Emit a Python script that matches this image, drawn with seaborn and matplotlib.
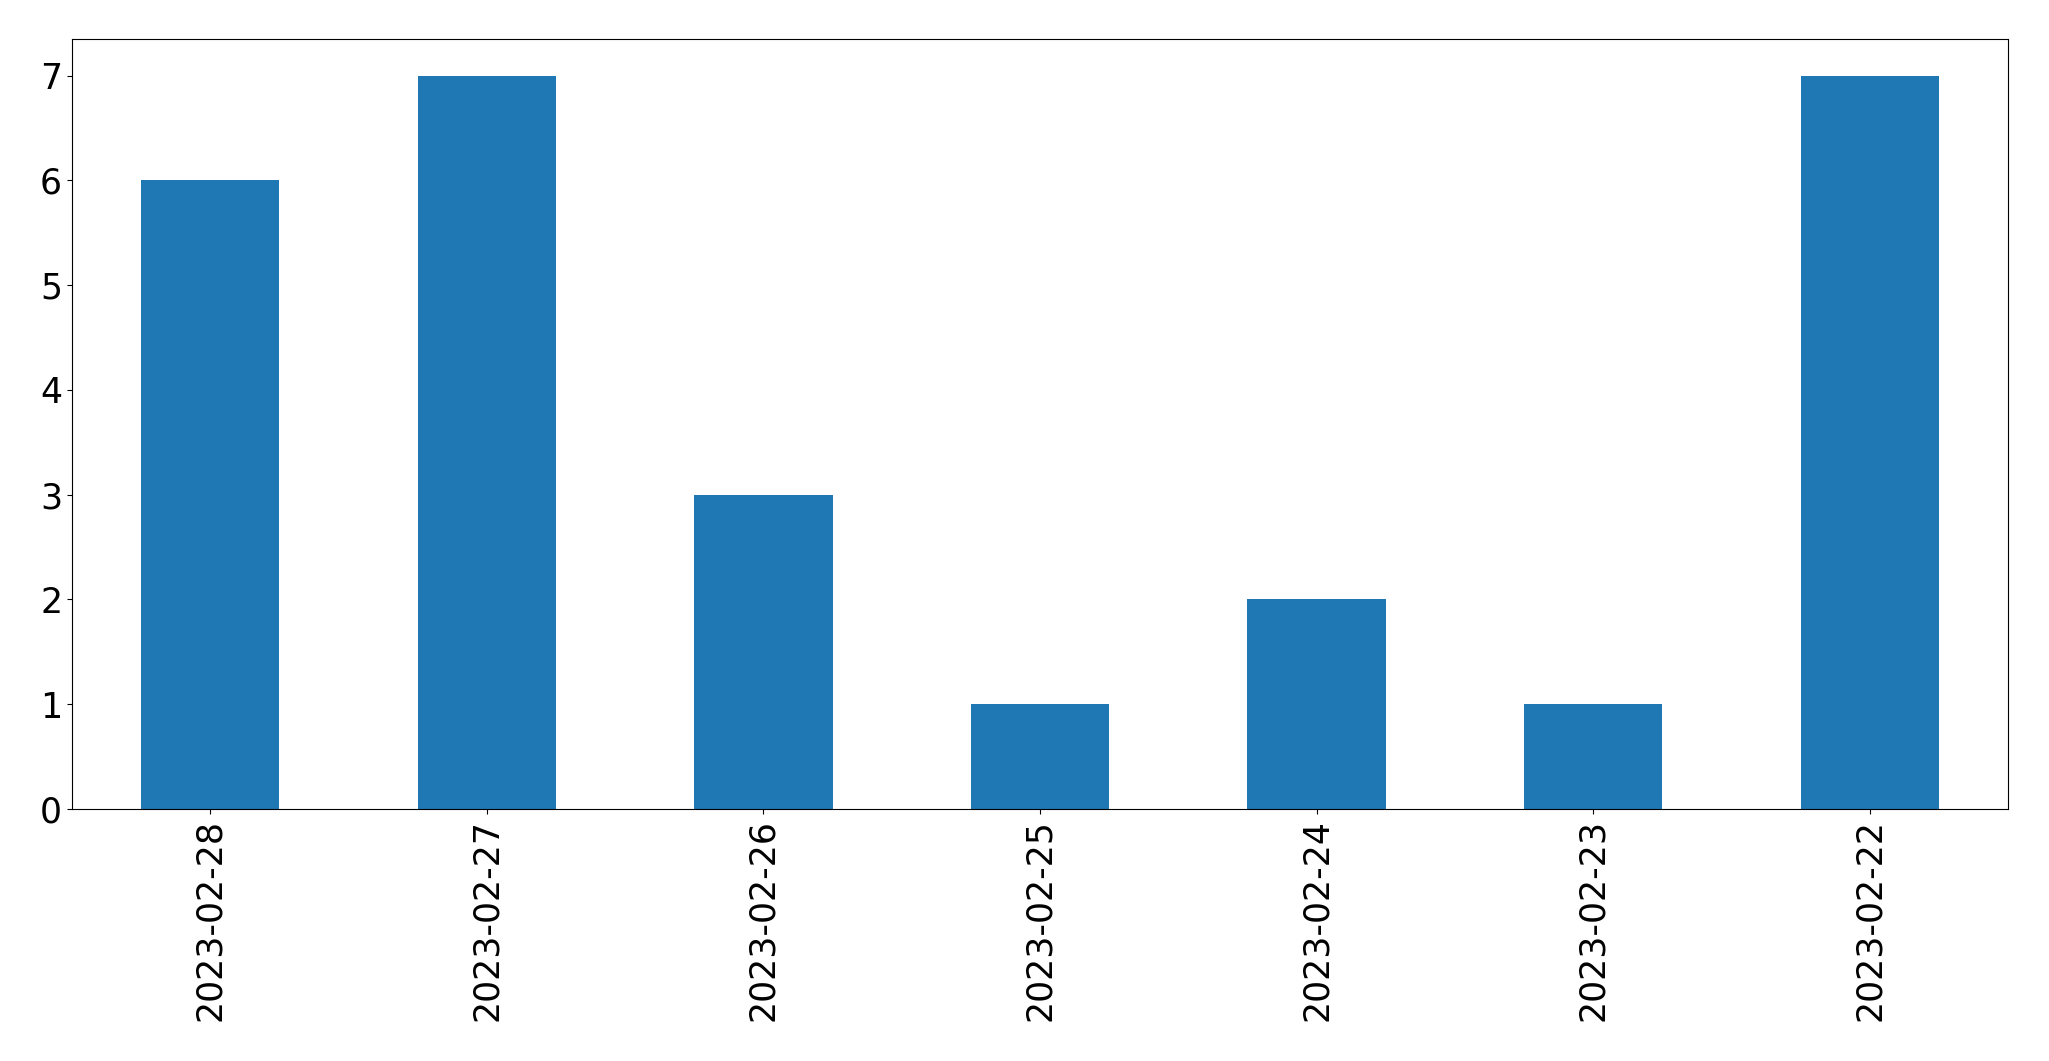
import pandas as pd
import matplotlib
matplotlib.use("Agg")
import matplotlib.pyplot as plt
import seaborn as sns

dates = ["2023-02-28", "2023-02-27", "2023-02-26", "2023-02-25",
         "2023-02-24", "2023-02-23", "2023-02-22"]
counts = [6, 7, 3, 1, 2, 1, 7]

df = pd.DataFrame({"date": dates, "count": counts})

fig, ax = plt.subplots(figsize=(20.49, 10.61), dpi=100)
sns.barplot(data=df, x="date", y="count", order=dates, color="#1f77b4",
            saturation=1, width=0.5, ax=ax)
ax.set_xlabel("")
ax.set_ylabel("")
ax.set_xlim(-0.5, 6.5)
ax.set_ylim(0, 7.35)
ax.tick_params(axis="both", labelsize=25)
ax.tick_params(axis="x", labelrotation=90)
fig.subplots_adjust(left=0.0351, right=0.980, top=0.9632, bottom=0.2375)
fig.savefig("out.png", dpi=100)
